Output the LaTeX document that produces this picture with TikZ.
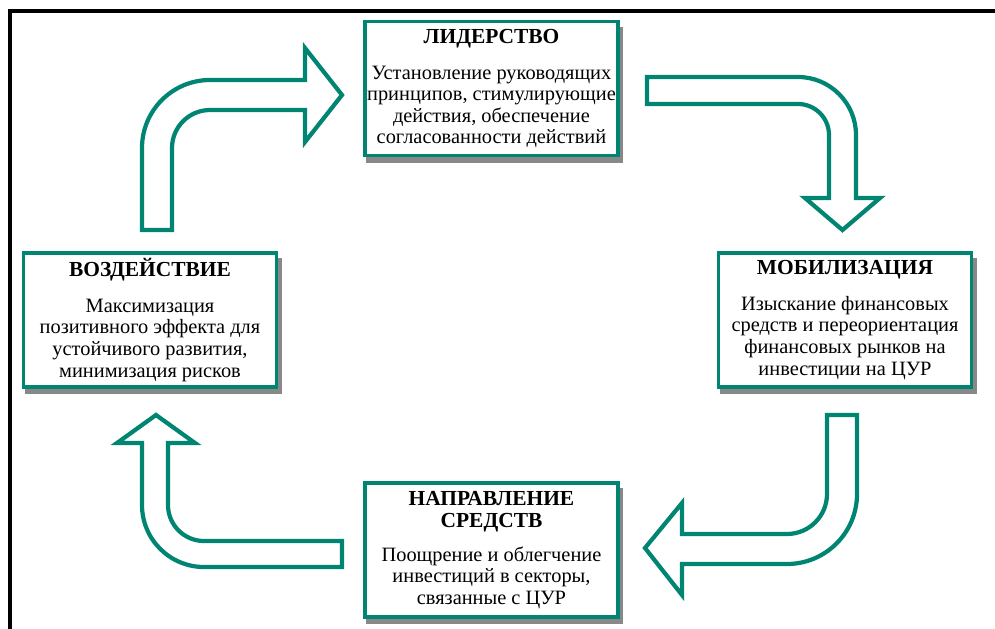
\documentclass[tikz,border=0pt]{standalone}
\usepackage{fontspec}
\setmainfont{Liberation Serif}
\usetikzlibrary{shadows}

\definecolor{sdgteal}{RGB}{0,133,115}

\tikzset{
  stagebox/.style={draw=sdgteal, line width=2.2pt, fill=white, align=center,
    minimum width=5.06cm, minimum height=2.68cm, inner sep=1pt,
    font=\fontsize{11.6}{12.3}\selectfont,
    drop shadow={shadow xshift=1.8pt, shadow yshift=-3.5pt, shadow scale=1.015,
      fill=black!55, opacity=.85}},
  blockarrow/.style={draw=sdgteal, line width=2.4pt, fill=white, line join=miter}
}
\newcommand{\stagetitle}[1]{{\fontsize{12.2}{13}\selectfont\bfseries #1}}

\begin{document}
\begin{tikzpicture}[x=0.02cm, y=-0.02cm]
    \useasboundingbox (0,0) rectangle (995,629);
    % frame
    \draw[line width=1.8pt] (10,629) -- (10,11) -- (995,11);

    % the four stages
    \node[stagebox] (lead) at (491.5,88.5) {\stagetitle{ЛИДЕРСТВО}\\[8pt]
        Установление руководящих\\ принципов, стимулирующие\\ действия, обеспечение\\ согласованности действий};
    \node[stagebox] (mobil) at (845,320) {\stagetitle{МОБИЛИЗАЦИЯ}\\[8pt]
        Изыскание финансовых\\ средств и переориентация\\ финансовых рынков на\\ инвестиции на ЦУР};
    \node[stagebox] (direct) at (491.5,550) {\stagetitle{НАПРАВЛЕНИЕ}\\ \stagetitle{СРЕДСТВ}\\[7pt]
        Поощрение и облегчение\\ инвестиций в секторы,\\ связанные с ЦУР};
    \node[stagebox] (impact) at (150,320) {\stagetitle{ВОЗДЕЙСТВИЕ}\\[8pt]
        Максимизация\\ позитивного эффекта для\\ устойчивого развития,\\ минимизация рисков};

    % bent block arrows
    \draw[blockarrow] (142,230) -- (142,148) arc[start angle=180, end angle=270, radius=68]
        -- (305,80) -- (305,48) -- (342,95) -- (305,142) -- (305,110) -- (210,110)
        arc[start angle=270, end angle=180, radius=38] -- (172,230) -- cycle;
    \draw[blockarrow] (647,77) -- (798,77) arc[start angle=270, end angle=360, radius=58]
        -- (856,198) -- (880,198) -- (842.5,230) -- (805,198) -- (829,198) -- (829,135)
        arc[start angle=0, end angle=-90, radius=31] -- (647,104) -- cycle;
    \draw[blockarrow] (827,415) -- (857,415) -- (857,494) arc[start angle=0, end angle=90, radius=70]
        -- (682,564) -- (682,595) -- (645,548) -- (682,503) -- (682,534) -- (787,534)
        arc[start angle=90, end angle=0, radius=40] -- cycle;
    \draw[blockarrow] (342,541) -- (342,567) -- (204,567) arc[start angle=90, end angle=180, radius=62]
        -- (142,443) -- (117,443) -- (156,415) -- (195,443) -- (168,443) -- (168,505)
        arc[start angle=180, end angle=90, radius=36] -- cycle;
\end{tikzpicture}
\end{document}
